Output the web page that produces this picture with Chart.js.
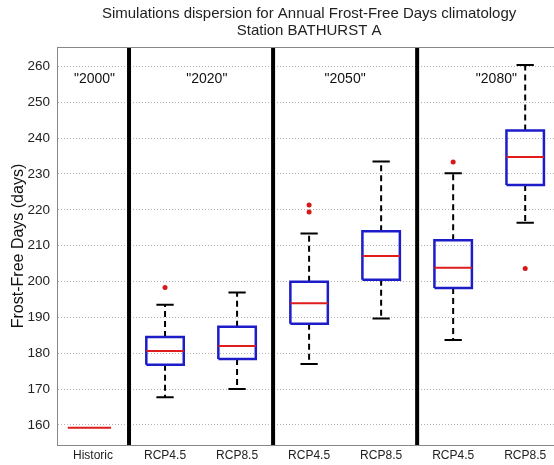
<!DOCTYPE html>
<html>
<meta charset="UTF-8">
<head>
    <title>Frost-Free Days</title>
    <script src="https://cdn.jsdelivr.net/npm/chart.js"></script>
    <style>
        body { margin: 0; background: #fff; overflow: hidden; }
        #wrap { width: 554px; height: 465px; }
    </style>
</head>
<body>
<div id="wrap"><canvas id="boxChart"></canvas></div>

<script>
    // Data
    var titleLines = ['Simulations dispersion for Annual Frost-Free Days climatology', 'Station BATHURST A'];
    var categories = ['Historic', 'RCP4.5', 'RCP8.5', 'RCP4.5', 'RCP8.5', 'RCP4.5', 'RCP8.5'];
    var periods = ['"2000"', '"2020"', '"2050"', '"2080"'];
    var periodPos = [1.02, 2.58, 4.5, 6.6];
    var separators = [1.5, 3.5, 5.5];
    var whiskerLow  = [null, 167.7, 170.0, 177.0, 189.7, 183.7, 216.4];
    var boxLow      = [null, 176.8, 178.4, 188.2, 200.5, 198.2, 226.9];
    var median      = [159.2, 180.6, 182.0, 193.9, 207.1, 203.8, 234.7];
    var boxHigh     = [null, 184.5, 187.4, 199.9, 214.0, 211.5, 242.1];
    var whiskerHigh = [null, 193.5, 196.9, 213.4, 233.5, 230.2, 260.4];
    var outliers    = [[], [198.3], [], [219.4, 221.3], [], [233.3], [203.6]];
    var yTicks = [160, 170, 180, 190, 200, 210, 220, 230, 240, 250, 260];
    var yMin = 154.4, yMax = 265.4;

    var halfBox = 0.26, halfCap = 0.12, halfHist = 0.3;
    var FONT = '"Liberation Sans", Arial, sans-serif';

    // Build line point lists (null y breaks the line)
    var boxPts = [], whiskPts = [], capPts = [], medPts = [], outPts = [], sepPts = [];
    categories.forEach(function (c, i) {
        var x = i + 1;
        if (boxLow[i] !== null) {
            boxPts.push({x: x - halfBox, y: boxLow[i]}, {x: x + halfBox, y: boxLow[i]},
                {x: x + halfBox, y: boxHigh[i]}, {x: x - halfBox, y: boxHigh[i]},
                {x: x - halfBox, y: boxLow[i]}, {x: x, y: null});
            whiskPts.push({x: x, y: boxHigh[i]}, {x: x, y: whiskerHigh[i]}, {x: x, y: null},
                {x: x, y: boxLow[i]}, {x: x, y: whiskerLow[i]}, {x: x, y: null});
            capPts.push({x: x - halfCap, y: whiskerHigh[i]}, {x: x + halfCap, y: whiskerHigh[i]}, {x: x, y: null},
                {x: x - halfCap, y: whiskerLow[i]}, {x: x + halfCap, y: whiskerLow[i]}, {x: x, y: null});
        }
        var hw = boxLow[i] === null ? halfHist : halfBox;
        var mx = boxLow[i] === null ? x - 0.05 : x;
        medPts.push({x: mx - hw, y: median[i]}, {x: mx + hw, y: median[i]}, {x: x, y: null});
        outliers[i].forEach(function (v) { outPts.push({x: x, y: v}); });
    });
    separators.forEach(function (s) {
        sepPts.push({x: s, y: yMin}, {x: s, y: yMax}, {x: s, y: null});
    });

    // Title (centred over the axes), period labels and top frame line
    var extras = {
        id: 'extras',
        afterDatasetsDraw: function (chart) {
            var ctx = chart.ctx, xs = chart.scales.x, ys = chart.scales.y, area = chart.chartArea;
            ctx.save();
            ctx.strokeStyle = '#888';
            ctx.lineWidth = 1;
            ctx.beginPath();
            ctx.moveTo(area.left, area.top + 0.5);
            ctx.lineTo(area.right, area.top + 0.5);
            ctx.stroke();

            ctx.fillStyle = '#111';
            ctx.textAlign = 'center';
            ctx.textBaseline = 'middle';
            ctx.font = '14px ' + FONT;
            periods.forEach(function (p, k) {
                ctx.fillText(p, xs.getPixelForValue(periodPos[k]), ys.getPixelForValue(256.4));
            });

            ctx.fillStyle = '#222';
            ctx.font = '15px ' + FONT;
            var cx = xs.getPixelForValue(4);
            ctx.fillText(titleLines[0], cx, 14);
            ctx.fillText(titleLines[1], cx, 31);
            ctx.restore();
        }
    };

    var ctx = document.getElementById('boxChart').getContext('2d');
    var chart = new Chart(ctx, {
        type: 'scatter',
        data: {
            datasets: [{
                data: sepPts, showLine: true, borderColor: '#000', borderWidth: 4,
                pointRadius: 0, order: 6
            }, {
                data: whiskPts, showLine: true, borderColor: '#000', borderWidth: 2,
                borderDash: [6, 4], pointRadius: 0, order: 5
            }, {
                data: capPts, showLine: true, borderColor: '#000', borderWidth: 2,
                pointRadius: 0, order: 4
            }, {
                data: boxPts, showLine: true, borderColor: '#1c1cc8', borderWidth: 2.5,
                pointRadius: 0, order: 3
            }, {
                data: medPts, showLine: true, borderColor: '#e01c1c', borderWidth: 2,
                pointRadius: 0, order: 2
            }, {
                data: outPts, showLine: false, pointRadius: 2.5, pointBorderWidth: 0,
                backgroundColor: '#d81818', borderColor: '#d81818', order: 1
            }]
        },
        options: {
            responsive: true,
            maintainAspectRatio: false,
            animation: false,
            layout: { autoPadding: false, padding: { left: 0, right: 0, top: 47, bottom: 0 } },
            plugins: {
                legend: { display: false },
                tooltip: { enabled: false },
                title: { display: false }
            },
            scales: {
                x: {
                    type: 'linear',
                    min: 0.5,
                    max: 7.4,
                    grid: { display: false, drawTicks: false },
                    border: { color: '#888', width: 1 },
                    afterBuildTicks: function (s) {
                        s.ticks = categories.map(function (c, i) { return {value: i + 1}; });
                    },
                    afterFit: function (s) {
                        s.height = 20;
                        s.paddingLeft = 0;
                        s.paddingRight = 0;
                    },
                    ticks: {
                        padding: 3,
                        color: '#222',
                        maxRotation: 0,
                        autoSkip: false,
                        font: { family: FONT, size: 12 },
                        callback: function (v) { return categories[v - 1]; }
                    }
                },
                y: {
                    min: yMin,
                    max: yMax,
                    afterBuildTicks: function (s) {
                        s.ticks = yTicks.map(function (v) { return {value: v}; });
                    },
                    afterFit: function (s) {
                        s.width = 57;
                        s.paddingTop = 0;
                        s.paddingBottom = 0;
                    },
                    grid: { color: '#b4b4b4', drawTicks: false },
                    border: { color: '#888', width: 1, dash: [1, 2] },
                    title: {
                        display: true,
                        text: 'Frost-Free Days (days)',
                        color: '#111',
                        font: { family: FONT, size: 16 },
                        padding: { top: 9, bottom: 0 }
                    },
                    ticks: {
                        padding: 7,
                        color: '#222',
                        font: { family: FONT, size: 13.5 }
                    }
                }
            }
        },
        plugins: [extras]
    });
</script>
</body>
</html>
